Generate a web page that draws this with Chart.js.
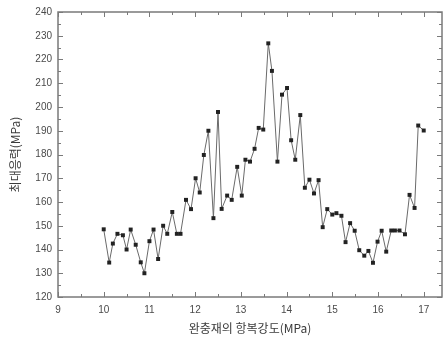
<!DOCTYPE html>
<html>
<head>
<meta charset="utf-8">
<script src="https://cdn.jsdelivr.net/npm/chart.js@4"></script>
<style>
  body { margin: 0; background: #fff; }
  #wrap { width: 446px; height: 347px; }
</style>
</head>
<body>
<div id="wrap"><canvas id="chart" width="446" height="347"></canvas></div>
<script>
// strength of the buffer material (MPa) vs. peak stress (MPa)
const strength = [
  10.00, 10.12, 10.20, 10.30, 10.42, 10.50, 10.59, 10.70, 10.81, 10.89,
  11.00, 11.09, 11.19, 11.30, 11.39, 11.50, 11.60, 11.68, 11.80, 11.91,
  12.01, 12.10, 12.19, 12.29, 12.40, 12.50, 12.58, 12.70, 12.80, 12.92,
  13.02, 13.10, 13.20, 13.30, 13.39, 13.49, 13.60, 13.68, 13.80, 13.90,
  14.01, 14.10, 14.19, 14.30, 14.40, 14.50, 14.60, 14.70, 14.79, 14.89,
  15.00, 15.09, 15.20, 15.29, 15.39, 15.49, 15.59, 15.70, 15.79, 15.89,
  15.99, 16.08, 16.18, 16.29, 16.37, 16.47, 16.59, 16.69, 16.80, 16.88,
  17.00
];
const peakStress = [
  148.5, 134.5, 142.5, 146.6, 146.0, 140.0, 148.4, 142.0, 134.6, 130.0,
  143.5, 148.4, 136.0, 150.0, 146.6, 155.8, 146.6, 146.6, 160.9, 157.0,
  170.0, 164.0, 179.8, 190.0, 153.2, 197.9, 157.1, 162.7, 160.9, 174.8,
  162.7, 177.8, 177.0, 182.4, 191.2, 190.5, 226.8, 215.2, 177.0, 205.2,
  208.0, 186.0, 177.8, 196.6, 166.0, 169.4, 163.6, 169.2, 149.4, 157.0,
  154.7, 155.3, 154.2, 143.1, 151.1, 147.9, 139.7, 137.4, 139.4, 134.4,
  143.3, 147.9, 139.1, 148.0, 148.0, 148.0, 146.4, 163.0, 157.5, 192.2,
  190.1
];
const xTicks = [9, 10, 11, 12, 13, 14, 15, 16, 17];
const yTicks = [120, 130, 140, 150, 160, 170, 180, 190, 200, 210, 220, 230, 240];
const xMinor = [9.5, 10.5, 11.5, 12.5, 13.5, 14.5, 15.5, 16.5];
const yMinor = [125, 135, 145, 155, 165, 175, 185, 195, 205, 215, 225, 235];

const axisColor = '#7a7a7a';
const textColor = '#4a4a4a';

// frame around the plot plus inward major/minor ticks on all four sides
const framePlugin = {
  id: 'frame',
  beforeDatasetsDraw(chart) {
    const { ctx, chartArea: a, scales: { x, y } } = chart;
    ctx.save();
    ctx.strokeStyle = axisColor;
    ctx.lineWidth = 1.5;
    ctx.strokeRect(a.left, a.top, a.right - a.left, a.bottom - a.top);
    ctx.lineWidth = 1;
    ctx.beginPath();
    const xt = (v, len) => {
      const px = Math.round(x.getPixelForValue(v)) + 0.5;
      ctx.moveTo(px, a.bottom); ctx.lineTo(px, a.bottom - len);
      ctx.moveTo(px, a.top); ctx.lineTo(px, a.top + len);
    };
    const yt = (v, len) => {
      const py = Math.round(y.getPixelForValue(v)) + 0.5;
      ctx.moveTo(a.left, py); ctx.lineTo(a.left + len, py);
      ctx.moveTo(a.right, py); ctx.lineTo(a.right - len, py);
    };
    xTicks.forEach((v) => xt(v, 5));
    xMinor.forEach((v) => xt(v, 3));
    yTicks.forEach((v) => yt(v, 5));
    yMinor.forEach((v) => yt(v, 3));
    ctx.stroke();
    ctx.restore();
  },
};

new Chart(document.getElementById('chart'), {
  type: 'scatter',
  data: {
    datasets: [{
      data: strength.map((s, i) => ({ x: s, y: peakStress[i] })),
      showLine: true,
      borderColor: '#6a6a6a',
      borderWidth: 1,
      pointStyle: 'rect',
      pointRadius: 2.8,
      pointBackgroundColor: '#222',
      pointBorderColor: '#222',
      pointBorderWidth: 0,
    }],
  },
  options: {
    responsive: false,
    devicePixelRatio: 1,
    animation: false,
    layout: { padding: { top: 10, right: 4, left: 0, bottom: 0 } },
    plugins: { legend: { display: false }, tooltip: { enabled: false } },
    scales: {
      x: {
        type: 'linear',
        min: 9,
        max: 17.4,
        afterBuildTicks: (s) => { s.ticks = xTicks.map((v) => ({ value: v })); },
        afterFit: (s) => { s.height = 50; },
        grid: { display: false, tickLength: 0 },
        border: { display: false },
        ticks: {
          padding: 7,
          color: textColor,
          font: { family: 'Liberation Sans', size: 10 },
          maxRotation: 0,
        },
        title: {
          display: true,
          text: '완충재의 항복강도(MPa)',
          color: '#3a3a3a',
          font: { family: 'Noto Sans CJK KR', size: 12 },
          padding: { top: 0, bottom: 11 },
        },
      },
      y: {
        min: 120,
        max: 240,
        afterBuildTicks: (s) => { s.ticks = yTicks.map((v) => ({ value: v })); },
        afterFit: (s) => { s.width = 58; },
        grid: { display: false, tickLength: 0 },
        border: { display: false },
        ticks: {
          padding: 6,
          color: textColor,
          font: { family: 'Liberation Sans', size: 10 },
        },
        title: {
          display: true,
          text: '최대응력(MPa)',
          color: '#3a3a3a',
          font: { family: 'Noto Sans CJK KR', size: 12 },
          padding: { top: 8, bottom: 0 },
        },
      },
    },
  },
  plugins: [framePlugin],
});
</script>
</body>
</html>
